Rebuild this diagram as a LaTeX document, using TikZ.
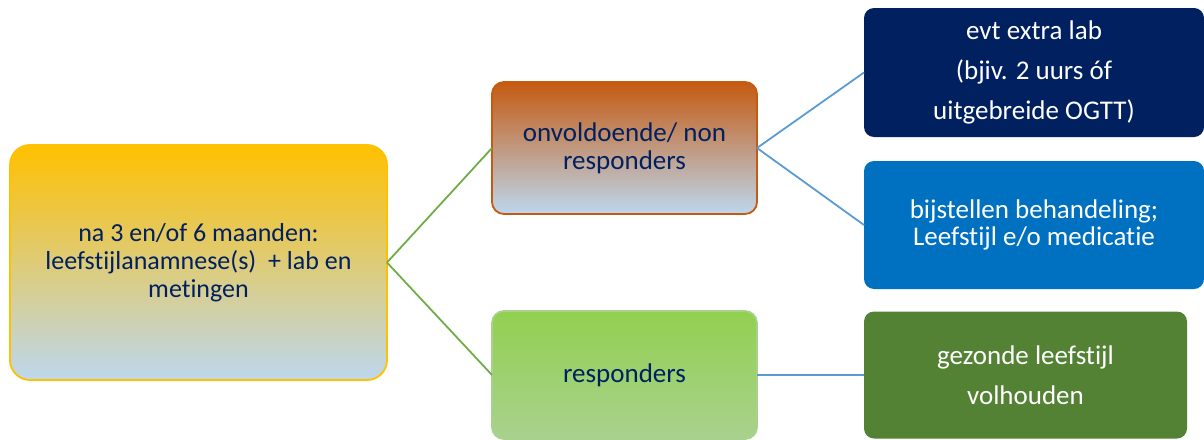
\documentclass[tikz,border=0pt]{standalone}
\usepackage{fontspec}
\setmainfont{Carlito}[Ligatures=NoCommon]
\definecolor{navytext}{HTML}{002060}
\definecolor{gold}{HTML}{FFC000}
\definecolor{paleblue}{HTML}{BDD7EE}
\definecolor{rust}{HTML}{C55A11}
\definecolor{lime}{HTML}{92D050}
\definecolor{palelime}{HTML}{A9D18E}
\definecolor{navybox}{HTML}{002060}
\definecolor{midblue}{HTML}{0070C0}
\definecolor{darkgreen}{HTML}{548235}
\definecolor{linkgreen}{HTML}{70AD47}
\definecolor{linkblue}{HTML}{5B9BD5}
\tikzset{
  box/.style={rectangle, inner sep=0pt, outer sep=0pt, align=center,
    rounded corners=12pt, line width=1.8pt},
  lighttext/.style={text=navytext, font=\fontsize{27}{28}\selectfont},
  darktext/.style={text=white, font=\fontsize{27}{27}\selectfont},
  widetext/.style={text=white, font=\fontsize{27}{40}\selectfont},
  greenlink/.style={draw=linkgreen, line width=1.8pt},
  bluelink/.style={draw=linkblue, line width=1.8pt},
}
\begin{document}
\begin{tikzpicture}[x=1pt,y=-1pt]
\useasboundingbox (0,0) rectangle (1204,439);

% start box
\node[box, lighttext, font=\fontsize{26}{28}\selectfont, rounded corners=20pt,
      draw=gold, top color=gold, bottom color=paleblue,
      minimum width=377pt, minimum height=235pt]
  (start) at (198.5,262.5)
  {na 3 en/of 6 maanden:\\ leefstijlanamnese(s)~ + lab en\\ metingen};

% outcome boxes
\node[box, lighttext, draw=rust, top color=rust, bottom color=paleblue,
      minimum width=265pt, minimum height=132pt]
  (non) at (624.5,148) {onvoldoende/ non\\ responders};
\node[box, lighttext, draw=palelime, top color=lime, middle color=lime,
      bottom color=palelime, minimum width=265pt, minimum height=128pt]
  (resp) at (624.5,375) {responders};

% follow-up actions
\node[box, widetext, fill=navybox, rounded corners=10pt,
      minimum width=340pt, minimum height=129pt]
  (lab) at (1034,72.5) {evt extra lab\\ (bjiv. 2 uurs óf\\ uitgebreide OGTT)};
\node[box, darktext, fill=midblue, rounded corners=10pt,
      minimum width=340pt, minimum height=128pt]
  (adjust) at (1034,225) {bijstellen behandeling;\\ Leefstijl e/o medicatie};
\node[box, widetext, fill=darkgreen, rounded corners=10pt,
      minimum width=323pt, minimum height=127pt]
  (keep) at (1025.5,375) {gezonde leefstijl\\ volhouden};

% connectors
\draw[greenlink] (start.east) -- (non.west);
\draw[greenlink] (start.east) -- (resp.west);
\draw[bluelink] (non.east) -- (lab.west);
\draw[bluelink] (non.east) -- (adjust.west);
\draw[bluelink] (resp.east) -- (keep.west);
\end{tikzpicture}
\end{document}
